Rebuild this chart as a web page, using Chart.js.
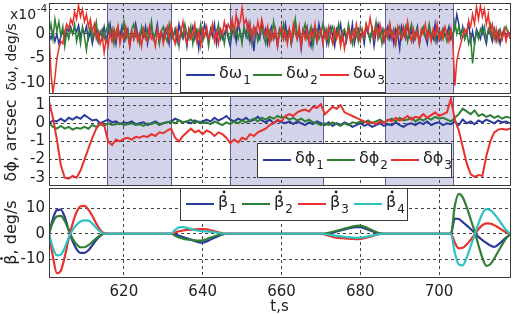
<!DOCTYPE html>
<html>
<head>
<meta charset="utf-8">
<title>Attitude errors</title>
<script src="https://cdn.jsdelivr.net/npm/chart.js@4.4.1/dist/chart.umd.min.js"></script>
<style>
  html, body { margin: 0; padding: 0; background: #fff; }
  #wrap { position: relative; width: 513px; height: 314px; overflow: hidden; }
  #wrap canvas { position: absolute; left: 0; top: 0; }
</style>
</head>
<body>
<div id="wrap">
  <canvas id="omegaChart" width="513" height="314"></canvas>
  <canvas id="phiChart" width="513" height="314"></canvas>
  <canvas id="betaChart" width="513" height="314"></canvas>
</div>
<script>
// time axis (s)
const xMin = 601;
const xMax = 718;
const xTicks = [620, 640, 660, 680, 700];
const shadedIntervals = [[615.7, 632], [646.9, 670.5], [686.4, 703.5]];

// delta omega, x1e-4 deg/s, one sample every 0.5 s from 601 s
const omegaStart = 601;
const omegaStep = 0.5;
const dOmega1 = [
    0, -1, 0.5, -1.5, 0, -2, -0.5, 0.5, -1, 1,
    0.5, 1.5, 0, 1.2, 0.5, 1.8, -0.5, 1, 0, 1.5,
    -1, 0.5, -2, 0, 1, -1.5, 0.5, -0.5, 1.5, -1,
    0, 2, -1, 0.5, -2, 1, -0.5, 1.5, -1.5, 0,
    1, -2.5, 0.5, -1, 2, 0, -1.5, 1, -0.5, 1.5,
    -2, 0.5, 1.5, -1, 0, 2, -1.5, 0.5, -1, 1,
    0, -2, 1.5, -0.5, 1, -1.5, 2, 0, -1, 0.5,
    -2.5, 1, 0, 1.5, -1, 0.5, -3, 1, -0.5, 2,
    0, -1.5, 1, -0.5, 2, -2, 0.5, 1, -1, 0,
    1.5, -1, -2.5, 0.5, 1, -1.5, 2.5, 0, -1, 1,
    -0.5, 2, -1.5, 0.5, -3.5, 1, 0, -1, 2, -0.5,
    1, -2, 0.5, 1.5, -1, 0, -2.5, 1, 0.5, -1,
    2, -0.5, 1, -2, 0, 2.5, -1, 0.5, -3, 1,
    0, 1.5, -1, -2.5, 1, 0.5, -1.5, 2, 0, -1,
    1, -2, 0.5, 1.5, -0.5, -2.5, 1, 0, 2, -1,
    0.5, -1.5, 1, -0.5, 2, -2, 0, 1, -1, 0.5,
    -2, 1.5, 0, -1, 1, -2.5, 0.5, 2, -0.5, 1,
    -1.5, 0, 1.5, -1, 0.5, -2, 1, 0, -3, 1.5,
    0, -1, 2, -0.5, 1, -1.5, 0, 1.5, -2, 0.5,
    1, -0.5, -2, 1.5, 0, -1, 2, -1.5, 0.5, -1,
    1, -0.5, 0, 1.5, -1, 0, 1, 4, 2, -0.5,
    1.5, -1, 0, 2.5, -1.5, 0.5, -2, 1, 0, -1,
    1.5, -0.5, -2, 1, 0, -1.5, 1, -1, 0.5, -2,
    0, 1, -1, 0.5, 0
];
const dOmega2 = [
    0, 2, -1, 3, 0.5, 2.5, -0.5, 1.5, -2.5, 0.5,
    -1, 1, 0, 2, -1.5, 0.5, -2, 1.5, -0.5, -3.3,
    0, 1.5, -1, 0.5, 2.5, -1.5, 0, 1, -1, 0.5,
    2, -0.5, 1, -2, 0.5, 1.5, -1, 0, 2.5, -1,
    0.5, -1.5, 1, 2, -0.5, 0, -2, 1.5, 0, -1,
    1, -0.5, 2.5, -1, 0, 1, -2, 0.5, 1.5, -0.5,
    -1.5, 2, 0, -1, 1, 0.5, -2.5, 1, -0.5, 2,
    0, -1, 1.5, -2, 0.5, 1, -0.5, 2, -1.5, 0,
    1, -2.5, 0.5, 1.5, -1, 0, 2, -1, 0.5, -2,
    1, 0, -1.5, 2.5, -0.5, 1, -1, 0.5, -2, 1.5,
    0, -1, 2, -2, 0.5, 1, -1.5, 0, 1.5, -0.5,
    -2, 1, 0.5, -1, 2.5, 0, -1.5, 1, -0.5, 2,
    -1, 0.5, 1, -2, 0, 3, -0.5, 1, -1.5, 0.5,
    2, -1, 0, 1.5, -2.5, 0.5, 1, -1, 0, 2,
    -0.5, 1, -2, 0.5, 1.5, -1, 0, 2, -1.5, 0.5,
    1, -1, 2, 0, -2, 1, 0.5, -1.5, 1.5, 0,
    -1, 2, 0.5, -1.5, 1, 0, 2.5, -1, 0.5, -2,
    1, 0, -1, 2, -0.5, 1, -2, 0.5, 1.5, -1,
    0, 1.5, -1.5, 0.5, 2, -1, 0, 1, -2, 0.5,
    1.5, -0.5, 0, 2, -1, 0.5, -1.5, 1, 0, -1,
    1, 0, -1.5, 0.5, 1, -1, 2.5, 0, 1.5, -0.5,
    1, -1, 0.5, -2, -0.5, -6, -2, 0.5, -1, 1,
    0, 1.5, -1, 0.5, 2, -0.5, 1, -1.5, 0, 1,
    -1, 0.5, 1.5, 0, -0.5
];
const dOmega3 = [
    0, -8, -12, -9, -5, -3, -1.5, -2, 0.5, 2,
    1, 3, 2, 4.5, 3, 5.8, 3.5, 5, 2.5, 4,
    1.5, 3, 0.5, 2, -1, 0.5, -2, -0.5, -3.8, -1,
    -2.5, 0.5, -1.5, 1, -1, 1.5, -2, 0, -1, 1.5,
    -0.5, -2.5, 0.5, -1, 1, -1.5, 0, -2.5, 1, -0.5,
    -1.5, 1.5, -1, -0.5, -2.5, 1, -1, 0.5, -2, 0,
    1.5, -1, 2, -0.5, -2, 1, -1.5, 0.5, 2.5, -0.5,
    -2, 1, -1, 0, 2, -1.5, 0.5, -2.5, 1, -0.5,
    1.5, -1, 0, 2, -1.5, 0.5, -2, 1, 0, 2.5,
    0.5, 2, 1, 3, 0.5, 4, 1.5, 2.5, 5.3, 2,
    3, 0.5, 2, -1, 1.5, 0, 2.5, 0.5, 3, 1,
    -0.5, 1.5, -2, 0.5, -1, 1, -2.5, 0, 1.5, -1,
    0.5, -2, 1, -1.5, 2, 0, -1, 1.5, -2.5, 0.5,
    -1, 1, -2, 0.5, -0.5, 2, -1.5, 0, 1, -2,
    0.5, -1, 1.5, -0.5, -2, 1, -1, 0.5, -2.5, 0,
    -3, -0.5, 1, -1.5, 0.5, -1, 2, 0, -1.5, 1,
    -0.5, 2, 0.5, 3.3, 1, -1, 1.5, -0.5, 2, 0,
    -1.5, 1, -0.5, 2, -1, 0.5, -2, 1.5, 0, -1,
    1.5, -0.5, 2.5, 0, -1.5, 1, -1, 0.5, -2, 1,
    0, 2, -1, 0.5, -1.5, 1, -0.5, 2, -1, 0.5,
    -1, 1.5, 0, -1.5, 1, -2, -10.5, -5.5, -3.5, -2,
    -0.5, 1, 0, 2.5, 1.5, 4, 2, 5.5, 3, 5.8,
    3.5, 5, 2, 4, 0.5, 2, -1, 1, -1.5, 0.5,
    -1, 1, -1.5, 0.5, -1
];
const omegaTicks = [-10, -5, 0, 5];
const omegaTickLabels = ['-10', '-5', '0', ''];

// delta phi, arcsec, one sample per second from 601 s
const phiStart = 601;
const phiStep = 1;
const dPhi1 = [
    0, 0.15, 0.1, 0.25, 0.1, 0.3, 0.2, 0.35, 0.25, 0.45,
    0.3, 0.15, 0.2, 0, 0.1, 0.2, 0.05, 0.1, -0.05, 0.05,
    0, 0.1, -0.05, 0, 0.05, -0.1, 0, 0.1, -0.05, 0,
    0.05, 0.1, 0.25, 0.15, 0.05, 0.1, 0, 0.15, 0.05, 0.1,
    0.2, 0.1, 0.3, 0.15, 0.25, 0.4, 0.2, 0.1, 0.25, 0.15,
    0.3, 0.1, 0.2, 0.35, 0.15, 0.05, 0.2, 0, 0.15, 0.05,
    0, 0.1, -0.05, 0.1, 0, -0.1, 0.05, -0.05, 0.1, 0,
    -0.1, 0.05, -0.15, 0, -0.1, 0.05, -0.05, -0.2, -0.1, 0,
    -0.15, -0.05, -0.2, -0.1, 0, -0.15, -0.05, -0.1, 0.05, -0.1,
    -0.2, -0.05, 0, -0.1, 0.05, -0.05, 0.1, -0.1, 0, 0.05,
    -0.1, 0, -0.05, 0.1, -0.1, 0.2, 0, 0.1, -0.05, 0.15,
    0.05, 0.2, 0.1, 0, 0.15, 0.05, 0.1, 0
];
const dPhi2 = [
    0, -0.2, -0.3, -0.15, -0.3, -0.2, -0.35, -0.25, -0.3, -0.2,
    -0.3, -0.1, -0.2, -0.05, -0.15, 0, -0.1, -0.05, 0, -0.1,
    -0.05, 0, -0.1, -0.05, -0.15, 0, -0.05, 0.05, -0.1, 0,
    0.05, 0.1, 0, 0.15, 0.05, 0.1, 0.2, 0.05, 0.1, 0,
    0.05, -0.05, 0.1, 0, -0.1, 0.05, -0.05, 0.1, 0, 0.15,
    0.05, 0.15, 0.25, 0.1, 0.3, 0.2, 0.35, 0.25, 0.4, 0.3,
    0.35, 0.2, 0.3, 0.15, 0.25, 0.1, 0.2, 0.05, 0, -0.1,
    0, -0.1, 0.05, -0.05, -0.15, 0, -0.1, 0.05, 0, 0.1,
    0.05, 0.15, 0, 0.1, 0.2, 0.05, 0.15, 0.25, 0.1, 0.3,
    0.15, 0.2, 0.3, 0.1, 0.25, 0.15, 0.3, 0.2, 0.35, 0.25,
    0.3, 0.2, 0.1, 0.3, 0.5, 0.8, 0.65, 0.5, 0.7, 0.4,
    0.5, 0.35, 0.45, 0.3, 0.4, 0.25, 0.35, 0.3
];
const dPhi3 = [
    1.2, 0.3, -0.9, -2.3, -3, -3.05, -2.9, -3, -2.6, -2,
    -1.4, -0.8, -0.3, 0, -0.1, -1, -1.2, -0.9, -1, -0.85,
    -0.8, -0.9, -0.75, -0.8, -0.7, -0.75, -0.6, -0.7, -0.5, -0.55,
    -0.4, -0.3, -0.8, -1, -0.7, -0.5, -0.3, -0.5, -0.4, -0.6,
    -0.4, -0.5, -0.7, -0.5, -0.6, -0.8, -1.1, -0.9, -1.05, -0.8,
    -0.9, -0.6, -0.7, -0.5, -0.4, -0.3, -0.1, 0, 0.2, 0.1,
    0.4, 0.5, 0.4, 0.6, 0.7, 0.75, 0.65, 0.9, 0.85, 1.05,
    0.5, 0.7, 0.9, 0.8, 1, 0.6, 0.5, 0.4, 0.3, 0.2,
    0.1, 0, 0.05, -0.05, 0.1, 0, 0.2, 0.1, 0.3, 0.15,
    0.25, 0.4, 0.2, 0.35, 0.3, 0.5, 0.3, 0.45, 0.6, 0.4,
    0.5, 0.6, 1.35, 0.2, -0.4, -1.3, -2.2, -2.8, -2.95, -2.85,
    -2.9, -1.8, -1, -0.5, -0.35, -0.3, -0.35, -0.3
];
const phiTicks = [-3, -2, -1, 0, 1];

// beta dot, deg/s, sampled around the four manoeuvres
const tBeta = [
    601, 602, 603, 604, 605, 606, 607, 608, 609, 610, 611, 612, 613, 614, 615, 616,
    632, 633, 634, 635, 636, 637, 638, 639, 640, 641, 642, 643, 644, 645, 646, 647,
    670, 671, 672, 673, 674, 675, 676, 677, 678, 679, 680, 681, 682, 683, 684, 685, 686, 687,
    703, 704, 705, 706, 707, 708, 709, 710, 711, 712, 713, 714, 715, 716, 717, 718
];
const beta1 = [
    0, 6, 9.3, 9.5, 6.5, 1.5, -3, -6, -7.5, -7.5, -6.5, -4.5, -2.5, -0.8, 0, 0,
    0, -0.3, -0.8, -1.3, -1.8, -2.3, -2.8, -3.3, -3.5, -3, -2.3, -1.6, -0.9, -0.3, 0, 0,
    0, 0, 0.2, 0.5, 0.9, 1.3, 1.7, 2.1, 2.4, 2.6, 2.6, 2.2, 1.6, 1, 0.5, 0.1, 0, 0,
    0, 6, 5.8, 4.6, 3.3, 1.9, 0.4, -1.2, -2.5, -3.6, -4.6, -5.2, -4.3, -3, -1.5, -0.3
];
const beta2 = [
    0, 4.5, 6.8, 7, 5, 1.5, -2, -4.2, -5.3, -5.3, -4.5, -3.2, -1.8, -0.6, 0, 0,
    0, -0.8, -1.5, -1.9, -2.2, -2.4, -2.6, -2.7, -2.6, -2.1, -1.5, -1, -0.5, -0.2, 0, 0,
    0, 0.1, 0.4, 0.8, 1.2, 1.6, 2, 2.4, 2.8, 3.1, 3.2, 2.8, 2.1, 1.4, 0.7, 0.2, 0, 0,
    0, 11, 15.7, 14.3, 10.5, 5.8, 1, -4.5, -9.5, -12.6, -12, -9.8, -7, -4.3, -1.8, 0
];
const beta3 = [
    0, -9, -15.5, -14.5, -9, -2, 4, 8.5, 10.8, 11, 9.5, 7, 4, 1.5, 0.2, 0,
    0, 0.5, 1, 1.3, 1.5, 1.6, 1.7, 1.8, 1.8, 1.7, 1.4, 1, 0.6, 0.2, 0, 0,
    0, -0.3, -0.8, -1.2, -1.5, -1.7, -1.8, -1.9, -2, -2.1, -2, -1.7, -1.3, -0.9, -0.5, -0.1, 0, 0,
    0, -3.5, -5.7, -5.5, -4.2, -2.4, -0.3, 1.8, 3.4, 4.1, 4, 3.4, 2.5, 1.5, 0.6, 0
];
const beta4 = [
    0, -5.5, -8.5, -8.2, -5.5, -1.5, 1.5, 3.5, 4.8, 5.3, 5.2, 4, 2.3, 0.8, 0, 0,
    0, 1.5, 2.5, 2.6, 2.3, 1.9, 1.5, 1.2, 1, 0.9, 0.8, 0.6, 0.3, 0.1, 0, 0,
    0, -0.1, -0.3, -0.6, -0.8, -1, -1.2, -1.4, -1.5, -1.6, -1.5, -1.3, -1, -0.7, -0.4, -0.1, 0, 0,
    0, -7.5, -12, -12.4, -9.5, -5, -0.5, 4, 8, 9.7, 9.3, 7.8, 5.8, 3.6, 1.5, 0
];
const betaTicks = [-10, 0, 10];

const BLUE = '#2b3a9c';
const GREEN = '#2f7f34';
const RED = '#e8302c';
const CYAN = '#2cc2c2';
const FONT = 'DejaVu Sans';

// shading, frame, rotated y title, in-plot legend and the exponent note
const panelDecor = {
    id: 'panelDecor',
    beforeDraw(chart, args, opts) {
        const { ctx, chartArea: a, scales: { x } } = chart;
        ctx.save();
        (opts.shade || []).forEach(([t0, t1]) => {
            const x0 = x.getPixelForValue(t0);
            const x1 = x.getPixelForValue(t1);
            ctx.fillStyle = '#d3d3e9';
            ctx.fillRect(x0, a.top, x1 - x0, a.bottom - a.top);
            ctx.strokeStyle = '#5d5d96';
            ctx.lineWidth = 1;
            ctx.beginPath();
            [x0, x1].forEach(px => {
                ctx.moveTo(Math.round(px) + 0.5, a.top);
                ctx.lineTo(Math.round(px) + 0.5, a.bottom);
            });
            ctx.stroke();
        });
        ctx.restore();
    },
    afterDraw(chart, args, opts) {
        const { ctx, chartArea: a } = chart;
        ctx.save();
        ctx.strokeStyle = '#3a3a3a';
        ctx.lineWidth = 1;
        ctx.strokeRect(Math.round(a.left) + 0.5, Math.round(a.top) + 0.5,
            Math.round(a.right - a.left), Math.round(a.bottom - a.top));

        // y axis title, reads bottom to top
        ctx.save();
        ctx.translate(12, (a.top + a.bottom) / 2 + (opts.yTitleShift || 0));
        ctx.rotate(-Math.PI / 2);
        ctx.fillStyle = '#222';
        ctx.font = (opts.yTitleSize || 16) + 'px "' + FONT + '"';
        ctx.textAlign = 'center';
        ctx.textBaseline = 'middle';
        ctx.fillText(opts.yTitle, 0, 0);
        if (opts.yTitleDot) {
            const W = ctx.measureText(opts.yTitle).width;
            const wb = ctx.measureText(opts.yTitle.charAt(0)).width;
            ctx.beginPath();
            ctx.arc(-W / 2 + wb / 2 + 1, -10.5, 1.4, 0, Math.PI * 2);
            ctx.fill();
        }
        ctx.restore();

        const lg = opts.legend;
        if (lg) {
            ctx.fillStyle = '#fff';
            ctx.fillRect(lg.left, lg.top, lg.width, lg.height);
            ctx.strokeRect(lg.left + 0.5, lg.top + 0.5, lg.width, lg.height);
            const cy = lg.top + lg.height / 2;
            chart.data.datasets.forEach((ds, i) => {
                const lx = lg.left + 6 + i * lg.pitch;
                ctx.strokeStyle = ds.borderColor;
                ctx.lineWidth = 2;
                ctx.beginPath();
                ctx.moveTo(lx, cy);
                ctx.lineTo(lx + lg.line, cy);
                ctx.stroke();
                const base = ds.label.slice(0, -1);
                const sub = ds.label.slice(-1);
                const tx = lx + lg.line + 4;
                ctx.fillStyle = '#222';
                ctx.font = '16px "' + FONT + '"';
                ctx.textBaseline = 'alphabetic';
                ctx.fillText(base, tx, cy + 3);
                const w = ctx.measureText(base).width;
                if (lg.dot) {
                    ctx.beginPath();
                    ctx.arc(tx + w / 2 + 1, cy - 12, 1.4, 0, Math.PI * 2);
                    ctx.fill();
                }
                ctx.font = '12px "' + FONT + '"';
                ctx.fillText(sub, tx + w + 1, cy + 9);
            });
            ctx.strokeStyle = '#3a3a3a';
        }

        if (opts.exponent) {
            ctx.fillStyle = '#222';
            ctx.font = '14px "' + FONT + '"';
            ctx.fillText('x10', 10, 19);
            const w = ctx.measureText('x10').width;
            ctx.font = '10px "' + FONT + '"';
            ctx.fillText(opts.exponent, 10 + w + 1, 12);
        }
        ctx.restore();
    }
};

function series(times, values, label, color, order, width) {
    return {
        label: label,
        data: values.map((v, i) => ({ x: times[i], y: v })),
        borderColor: color,
        borderWidth: width,
        pointRadius: 0,
        fill: false,
        order: order
    };
}

function makePanel(canvasId, datasets, cfg) {
    const tickFont = { family: FONT, size: 15 };
    return new Chart(document.getElementById(canvasId), {
        type: 'line',
        data: { datasets: datasets },
        plugins: [panelDecor],
        options: {
            responsive: false,
            animation: false,
            events: [],
            layout: { padding: { top: cfg.top, bottom: cfg.bottom, left: 0, right: 3 } },
            elements: { line: { cubicInterpolationMode: cfg.smooth ? 'monotone' : 'default', tension: 0 } },
            plugins: {
                legend: { display: false },
                tooltip: { enabled: false },
                panelDecor: {
                    shade: cfg.shade, legend: cfg.legend, exponent: cfg.exponent,
                    yTitle: cfg.yTitle, yTitleDot: cfg.yTitleDot,
                    yTitleShift: cfg.yTitleShift, yTitleSize: cfg.yTitleSize
                }
            },
            scales: {
                x: {
                    type: 'linear',
                    min: xMin,
                    max: xMax,
                    afterBuildTicks: s => { s.ticks = xTicks.map(v => ({ value: v })); },
                    afterFit: s => {
                        s.height = cfg.xHeight;
                        s.paddingLeft = 0;
                        s.paddingRight = 0;
                    },
                    grid: { color: '#444', lineWidth: 1, drawTicks: false },
                    border: { display: false, dash: [3, 3] },
                    ticks: { display: cfg.xLabels, color: '#222', font: tickFont, padding: 6, maxRotation: 0 },
                    title: {
                        display: cfg.xLabels,
                        text: 't,s',
                        color: '#222',
                        font: { family: FONT, size: 15 },
                        padding: { top: 0, bottom: -2 }
                    }
                },
                y: {
                    type: 'linear',
                    min: cfg.yMin,
                    max: cfg.yMax,
                    afterBuildTicks: s => { s.ticks = cfg.yTicks.map(v => ({ value: v })); },
                    afterFit: s => {
                        s.width = 49;
                        s.paddingTop = 0;
                        s.paddingBottom = 0;
                    },
                    grid: { color: '#444', lineWidth: 1, drawTicks: false },
                    border: { display: false, dash: [3, 3] },
                    ticks: {
                        color: '#222',
                        font: tickFont,
                        padding: 4,
                        callback: (v, i) => cfg.yLabels ? cfg.yLabels[i] : String(v)
                    },
                    title: { display: false }
                }
            }
        }
    });
}

document.addEventListener('DOMContentLoaded', function () {
    const tOmega = dOmega1.map((_, i) => omegaStart + omegaStep * i);
    const tPhi = dPhi1.map((_, i) => phiStart + phiStep * i);

    makePanel('omegaChart', [
        series(tOmega, dOmega1, 'δω1', BLUE, 2, 1.5),
        series(tOmega, dOmega2, 'δω2', GREEN, 1, 1.5),
        series(tOmega, dOmega3, 'δω3', RED, 0, 1.5)
    ], {
        top: 3, bottom: 221, xHeight: 0, xLabels: false,
        yMin: -12, yMax: 6.3, yTicks: omegaTicks, yLabels: omegaTickLabels,
        yTitle: 'δω, deg/s', yTitleShift: 9, yTitleSize: 14,
        shade: shadedIntervals, exponent: '-4',
        legend: { left: 180, top: 58, width: 205, height: 34, pitch: 67, line: 29 }
    });

    makePanel('phiChart', [
        series(tPhi, dPhi1, 'δϕ1', BLUE, 2, 2),
        series(tPhi, dPhi2, 'δϕ2', GREEN, 1, 2),
        series(tPhi, dPhi3, 'δϕ3', RED, 0, 2)
    ], {
        top: 96, bottom: 129, xHeight: 0, xLabels: false,
        yMin: -3.4, yMax: 1.5, yTicks: phiTicks,
        yTitle: 'δϕ, arcsec', shade: shadedIntervals,
        legend: { left: 257, top: 143, width: 194, height: 34, pitch: 64, line: 28 }
    });

    makePanel('betaChart', [
        series(tBeta, beta1, 'β1', BLUE, 3, 2.2),
        series(tBeta, beta2, 'β2', GREEN, 2, 2.2),
        series(tBeta, beta3, 'β3', RED, 1, 2.2),
        series(tBeta, beta4, 'β4', CYAN, 0, 2.2)
    ], {
        top: 188, bottom: 0, xHeight: 37, xLabels: true, smooth: true,
        yMin: -17, yMax: 18, yTicks: betaTicks,
        yTitle: 'β, deg/s', yTitleDot: true,
        legend: { left: 180, top: 188, width: 227, height: 32, pitch: 56, line: 28, dot: true }
    });
});
</script>
</body>
</html>
